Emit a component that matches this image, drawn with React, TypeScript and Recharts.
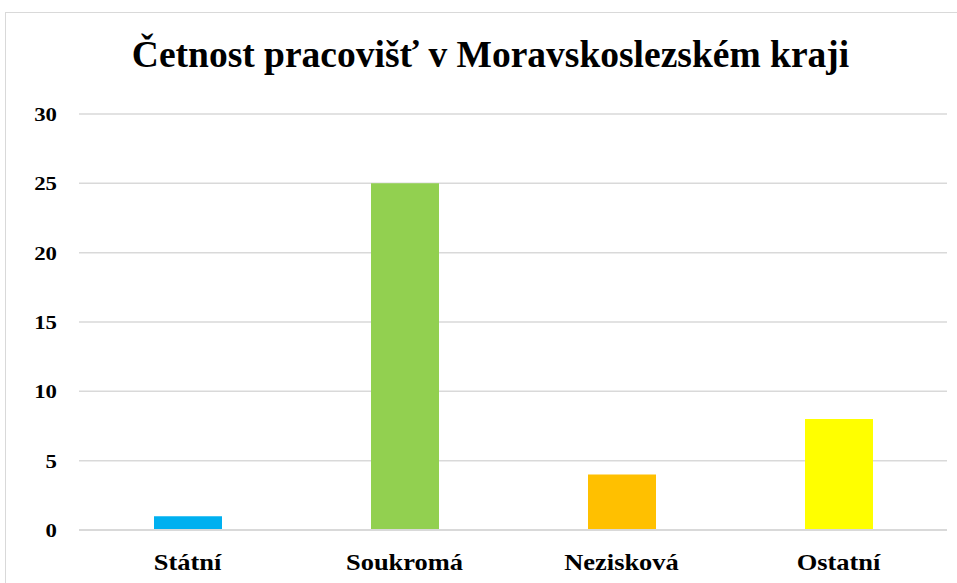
import { Bar, BarChart, CartesianGrid, Cell, XAxis, YAxis } from "recharts";

const categories = ["Státní", "Soukromá", "Nezisková", "Ostatní"];
const counts = [1, 25, 4, 8];
const barColors = ["#00B0F0", "#92D050", "#FFC000", "#FFFF00"];
const yTicks = [0, 5, 10, 15, 20, 25, 30];

const data = categories.map((name, i) => ({ name, value: counts[i] }));

const FONT = '"Liberation Serif", "Times New Roman", serif';

// the source labels are a bit wider than the plain font, so stretch them
function XTick({ x, y, payload }: any) {
  return (
    <text
      transform={`translate(${x},${y + 22}) scale(1.15,1)`}
      textAnchor="middle"
      fill="#000"
      fontSize={23}
      fontWeight="bold"
      fontFamily={FONT}
    >
      {payload.value}
    </text>
  );
}

function YTick({ y, payload }: any) {
  return (
    <text
      transform={`translate(57,${y + 7}) scale(1.2,1)`}
      textAnchor="end"
      fill="#000"
      fontSize={19}
      fontWeight="bold"
      fontFamily={FONT}
    >
      {payload.value}
    </text>
  );
}

export default function App() {
  return (
    <div
      style={{
        position: "absolute",
        left: 0,
        top: 0,
        width: 957,
        height: 583,
        overflow: "hidden",
        background: "#fff",
        fontFamily: FONT,
      }}
    >
      <div
        style={{
          position: "absolute",
          left: 5,
          top: 12,
          width: 1000,
          height: 700,
          border: "1px solid #d9d9d9",
        }}
      />
      <div
        style={{
          position: "absolute",
          left: 0,
          top: 30,
          width: 981,
          textAlign: "center",
          fontSize: 37.5,
          fontWeight: "bold",
          lineHeight: "50px",
          color: "#000",
        }}
      >
        Četnost pracovišť v Moravskoslezském kraji
      </div>
      <div style={{ position: "absolute", left: 0, top: 0 }}>
        <BarChart
          width={957}
          height={583}
          data={data}
          margin={{ top: 114, right: 10, bottom: 0, left: 0 }}
        >
          <CartesianGrid vertical={false} stroke="#d9d9d9" strokeWidth={1.5} />
          <XAxis
            dataKey="name"
            height={53}
            axisLine={{ stroke: "#d9d9d9", strokeWidth: 2 }}
            tickLine={false}
            tickSize={0}
            tickMargin={18}
            tick={<XTick />}
          />
          <YAxis
            width={79}
            domain={[0, 30]}
            ticks={yTicks}
            axisLine={false}
            tickLine={false}
            tick={<YTick />}
          />
          <Bar dataKey="value" barSize={68} isAnimationActive={false}>
            {data.map((_, i) => (
              <Cell key={i} fill={barColors[i]} />
            ))}
          </Bar>
        </BarChart>
      </div>
    </div>
  );
}
